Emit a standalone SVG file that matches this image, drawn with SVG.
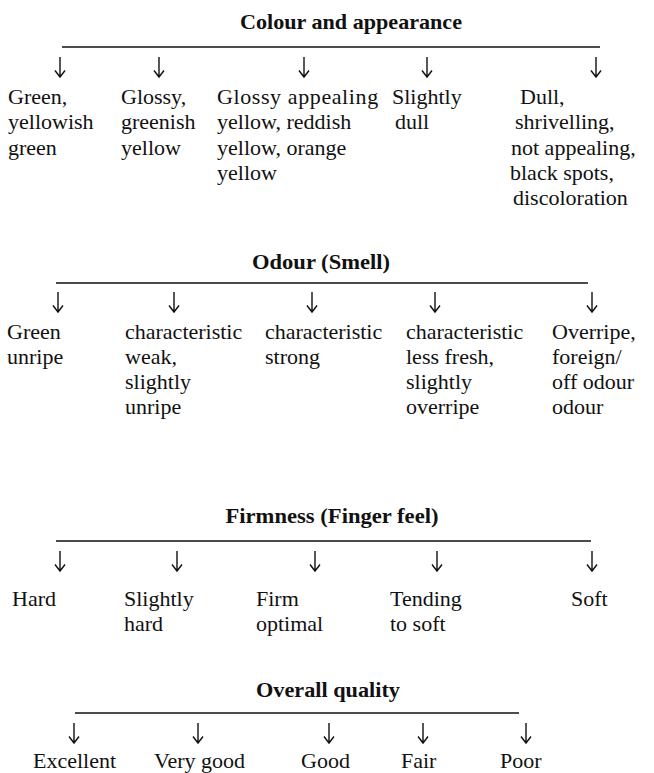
<svg xmlns="http://www.w3.org/2000/svg" xmlns:xlink="http://www.w3.org/1999/xlink" width="654" height="773" viewBox="0 0 654 773">
<style>
  text { font-family: "Liberation Serif", "Times New Roman", serif; fill: #111; }
  .t { font-size: 21px; font-weight: bold; }
  .b { font-size: 22px; }
  .bar { stroke: #111; stroke-width: 1.6; fill: none; }
  .ar { stroke: #111; stroke-width: 1.4; fill: none; }
</style>
<defs>
  <path id="arr" d="M0,0 V20 M-5,13.5 L0,20 L5,13.5" class="ar"/>
</defs>
<rect width="654" height="773" fill="#fff"/>

<g id="connectors">
  <line class="bar" x1="62" y1="47" x2="600" y2="47"/>
  <use xlink:href="#arr" x="60" y="57"/>
  <use xlink:href="#arr" x="159" y="57"/>
  <use xlink:href="#arr" x="304" y="57"/>
  <use xlink:href="#arr" x="427" y="57"/>
  <use xlink:href="#arr" x="596" y="57"/>

  <line class="bar" x1="56" y1="283" x2="588" y2="283"/>
  <use xlink:href="#arr" x="58" y="292"/>
  <use xlink:href="#arr" x="174" y="292"/>
  <use xlink:href="#arr" x="312" y="292"/>
  <use xlink:href="#arr" x="435" y="292"/>
  <use xlink:href="#arr" x="592" y="292"/>

  <line class="bar" x1="56" y1="541" x2="591" y2="541"/>
  <use xlink:href="#arr" x="60" y="551"/>
  <use xlink:href="#arr" x="177" y="551"/>
  <use xlink:href="#arr" x="315" y="551"/>
  <use xlink:href="#arr" x="437" y="551"/>
  <use xlink:href="#arr" x="592" y="551"/>

  <line class="bar" x1="75" y1="713" x2="519" y2="713"/>
  <use xlink:href="#arr" x="74" y="723"/>
  <use xlink:href="#arr" x="198" y="723"/>
  <use xlink:href="#arr" x="329" y="723"/>
  <use xlink:href="#arr" x="423" y="723"/>
  <use xlink:href="#arr" x="526" y="723"/>
</g>

<g id="colour-title"><text class="t" x="351" y="29" text-anchor="middle" textLength="222" lengthAdjust="spacingAndGlyphs">Colour and appearance</text></g>
<g id="colour-1"><text class="b" x="8" y="104">Green,</text><text class="b" x="8" y="129">yellowish</text><text class="b" x="8" y="155">green</text></g>
<g id="colour-2"><text class="b" x="121" y="104">Glossy,</text><text class="b" x="121" y="129">greenish</text><text class="b" x="121" y="155">yellow</text></g>
<g id="colour-3"><text class="b" x="217" y="104" letter-spacing="0.6">Glossy appealing</text><text class="b" x="217" y="129">yellow, reddish</text><text class="b" x="217" y="155">yellow, orange</text><text class="b" x="217" y="180">yellow</text></g>
<g id="colour-4"><text class="b" x="392" y="104">Slightly</text><text class="b" x="395" y="129">dull</text></g>
<g id="colour-5"><text class="b" x="520" y="104">Dull,</text><text class="b" x="515" y="129">shrivelling,</text><text class="b" x="511" y="155">not appealing,</text><text class="b" x="510" y="180">black spots,</text><text class="b" x="513" y="205">discoloration</text></g>

<g id="odour-title"><text class="t" x="321" y="269" text-anchor="middle" textLength="138" lengthAdjust="spacingAndGlyphs">Odour (Smell)</text></g>
<g id="odour-1"><text class="b" x="7" y="339">Green</text><text class="b" x="7" y="364">unripe</text></g>
<g id="odour-2"><text class="b" x="125" y="339">characteristic</text><text class="b" x="125" y="364">weak,</text><text class="b" x="125" y="389">slightly</text><text class="b" x="125" y="414">unripe</text></g>
<g id="odour-3"><text class="b" x="265" y="339">characteristic</text><text class="b" x="265" y="364">strong</text></g>
<g id="odour-4"><text class="b" x="406" y="339">characteristic</text><text class="b" x="406" y="364">less fresh,</text><text class="b" x="406" y="389">slightly</text><text class="b" x="406" y="414">overripe</text></g>
<g id="odour-5"><text class="b" x="552" y="339">Overripe,</text><text class="b" x="552" y="364">foreign/</text><text class="b" x="552" y="389">off odour</text><text class="b" x="552" y="414">odour</text></g>

<g id="firm-title"><text class="t" x="332" y="523" text-anchor="middle" textLength="213" lengthAdjust="spacingAndGlyphs">Firmness (Finger feel)</text></g>
<g id="firm-1"><text class="b" x="12" y="606">Hard</text></g>
<g id="firm-2"><text class="b" x="124" y="606">Slightly</text><text class="b" x="124" y="631">hard</text></g>
<g id="firm-3"><text class="b" x="256" y="606">Firm</text><text class="b" x="256" y="631">optimal</text></g>
<g id="firm-4"><text class="b" x="390" y="606">Tending</text><text class="b" x="390" y="631">to soft</text></g>
<g id="firm-5"><text class="b" x="571" y="606">Soft</text></g>

<g id="quality-title"><text class="t" x="328" y="697" text-anchor="middle" textLength="144" lengthAdjust="spacingAndGlyphs">Overall quality</text></g>
<g id="quality-1"><text class="b" x="33" y="768">Excellent</text></g>
<g id="quality-2"><text class="b" x="154" y="768">Very good</text></g>
<g id="quality-3"><text class="b" x="301" y="768">Good</text></g>
<g id="quality-4"><text class="b" x="401" y="768">Fair</text></g>
<g id="quality-5"><text class="b" x="500" y="768">Poor</text></g>
</svg>
